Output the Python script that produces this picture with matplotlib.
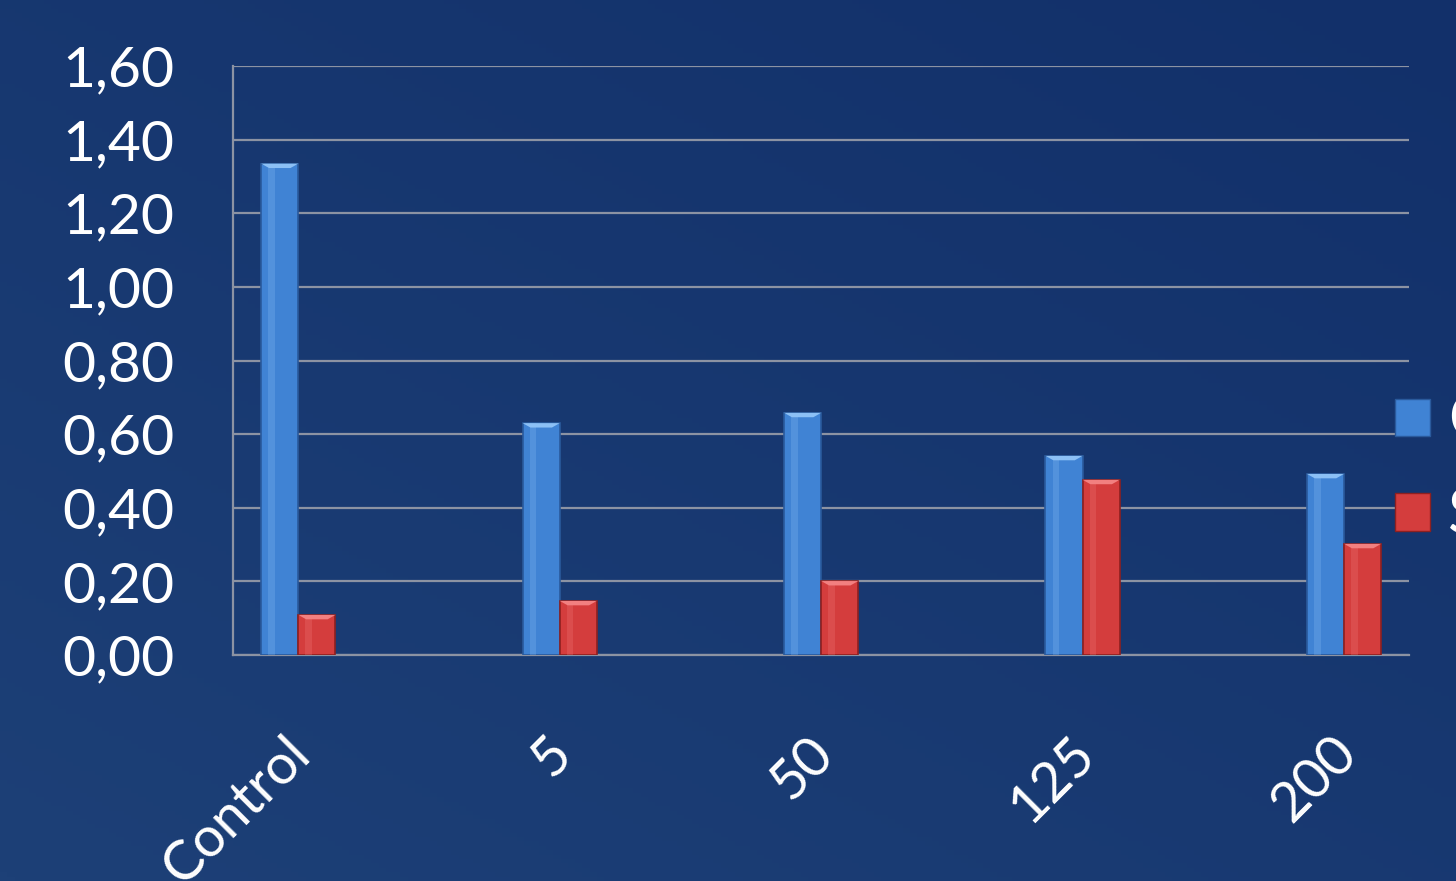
import matplotlib.pyplot as plt
import matplotlib.patches as mpatches
import matplotlib.transforms as mtransforms
import numpy as np

# datos
categorias = ['Control', '5', '50', '125', '200']
serie_azul = [1.335, 0.63, 0.658, 0.541, 0.492]
serie_roja = [0.109, 0.147, 0.201, 0.476, 0.302]
etiquetas = ['C', 'S']
ticks_y = [0.0, 0.2, 0.4, 0.6, 0.8, 1.0, 1.2, 1.4, 1.6]

plt.rcParams['font.family'] = ['Lato', 'DejaVu Sans']

fig = plt.figure(figsize=(14.56, 8.81), dpi=100)

# fondo azul con un ligero degradado
fondo = fig.add_axes([0, 0, 1, 1], zorder=-10)
gy, gx = np.mgrid[0:1:200j, 0:1:200j]
grad = 0.55 * gy + 0.45 * (1 - gx)
fondo.imshow(grad, cmap=plt.matplotlib.colors.LinearSegmentedColormap.from_list(
    'f', ['#12306a', '#1d4077']), aspect='auto', extent=[0, 1, 0, 1])
fondo.axis('off')

ax = fig.add_axes([0.160, 0.2565, 0.808, 0.6685])
ax.patch.set_alpha(0)

x = np.arange(len(categorias))
ancho = 0.142


def barras(pos, alturas, cara, borde, claro):
    ax.bar(pos, alturas, ancho, color=cara, edgecolor=borde, linewidth=1.2, zorder=3)
    for p, h in zip(pos, alturas):
        # brillo lateral
        ax.bar(p - ancho * 0.22, h, ancho * 0.18, color=claro, alpha=0.25,
               linewidth=0, zorder=4)
        # bisel superior
        b = 0.012
        tri = mpatches.Polygon([(p - ancho / 2, h), (p + ancho / 2, h),
                                (p + ancho / 2 - 0.03, h - b), (p - ancho / 2 + 0.03, h - b)],
                               closed=True, facecolor=claro, edgecolor='none', zorder=5)
        ax.add_patch(tri)


barras(x - ancho / 2, serie_azul, '#4083d4', '#2a5a9c', '#8cc0f5')
barras(x + ancho / 2, serie_roja, '#d43d3d', '#8e2020', '#f28080')

ax.set_xlim(-0.25, 4.25)
ax.set_ylim(0, 1.6)
ax.set_yticks(ticks_y)
ax.set_yticklabels([f'{v:.2f}'.replace('.', ',') for v in ticks_y],
                   color='white', fontsize=41)
ax.set_xticks(x)
ax.set_xticklabels(categorias, color='white', fontsize=40, rotation=45,
                   ha='right', va='top', rotation_mode='anchor')
ax.tick_params(axis='both', length=0)
ax.tick_params(axis='y', pad=42)
ax.tick_params(axis='x', pad=52)
desplaza = mtransforms.ScaledTranslation(-14 / 100, 0, fig.dpi_scale_trans)
for lab in ax.get_xticklabels():
    lab.set_transform(lab.get_transform() + desplaza)

ax.grid(axis='y', color='#8c93a3', linewidth=1.6, zorder=0)
ax.set_axisbelow(True)
for s in ['top', 'right']:
    ax.spines[s].set_visible(False)
for s in ['left', 'bottom']:
    ax.spines[s].set_color('#8c93a3')
    ax.spines[s].set_linewidth(1.6)

# leyenda cortada por el borde derecho
h1 = mpatches.Patch(facecolor='#4083d4', edgecolor='#2a5a9c')
h2 = mpatches.Patch(facecolor='#d43d3d', edgecolor='#8e2020')
fig.legend([h1, h2], etiquetas, loc='upper left', bbox_to_anchor=(0.958, 0.554),
           frameon=False, fontsize=44, labelcolor='white', handlelength=0.57,
           handleheight=0.57, handletextpad=0.3, labelspacing=0.62,
           borderaxespad=0, borderpad=0)

fig.savefig('out.png', dpi=100)
